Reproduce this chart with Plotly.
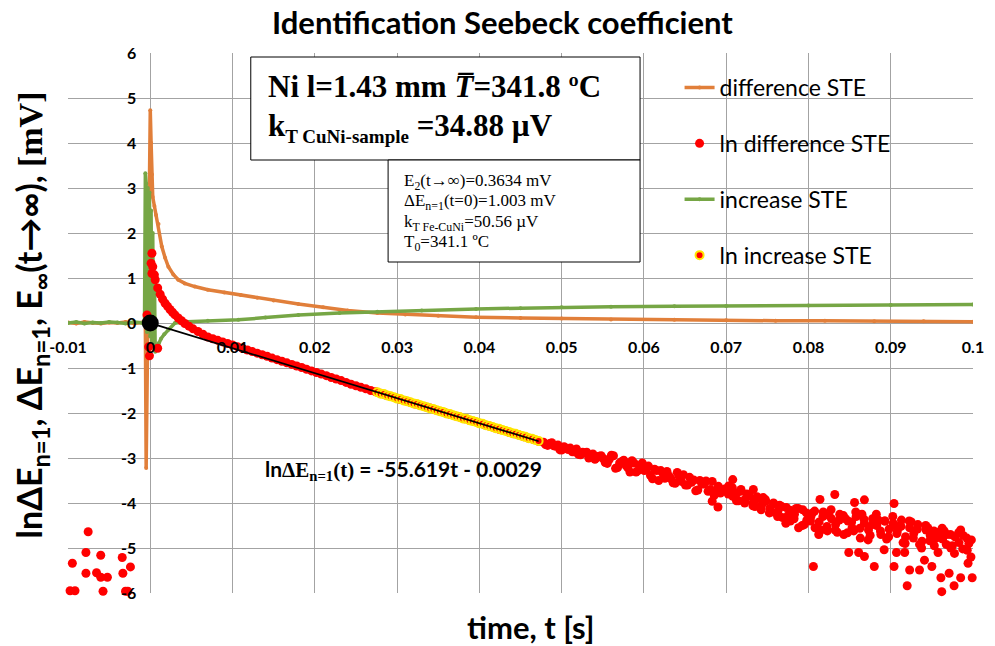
import plotly.graph_objects as go

# ---------------- data ----------------
x_ticks = [-0.01, 0, 0.01, 0.02, 0.03, 0.04, 0.05, 0.06, 0.07, 0.08, 0.09, 0.1]
x_ticklabels = ["-0.01", "0", "0.01", "0.02", "0.03", "0.04", "0.05", "0.06", "0.07", "0.08", "0.09", "0.1"]
y_ticks = [-6, -5, -4, -3, -2, -1, 0, 1, 2, 3, 4, 5, 6]
y_ticklabels = ["-6", "-5", "-4", "-3", "-2", "-1", "0", "1", "2", "3", "4", "5", "6"]

# difference STE
diff_t = [-0.0100, -0.0090, -0.0080, -0.0070, -0.0060, -0.0050, -0.0040, -0.0030, -0.0020, -0.0010,
          -0.0006, -0.0005, 0.0000, 0.0001, 0.0002, 0.0003, 0.0005, 0.0007, 0.0010,
          0.0014, 0.0018, 0.0022, 0.0028, 0.0034, 0.0042, 0.0054, 0.0070, 0.0090,
          0.0110, 0.0130, 0.0150, 0.0180, 0.0210, 0.0240, 0.0276,
          0.0310, 0.0350, 0.0396, 0.0450, 0.0500, 0.0560, 0.0637,
          0.0700, 0.0760, 0.0820, 0.0880, 0.0940, 0.1000]
diff_v = [0.01, -0.01, 0.02, 0.00, -0.01, 0.01, 0.00, 0.02, -0.01, 0.01,
          0.00, -3.22, 4.73, 4.00, 3.30, 2.80, 2.60, 2.40, 2.20,
          1.70, 1.45, 1.25, 1.08, 0.96, 0.88, 0.81, 0.74, 0.68,
          0.62, 0.56, 0.50, 0.42, 0.35, 0.28, 0.22,
          0.19, 0.16, 0.13, 0.11, 0.10, 0.08, 0.07,
          0.06, 0.05, 0.05, 0.04, 0.04, 0.03]

# increase STE
inc_t = [-0.0100, -0.0090, -0.0080, -0.0070, -0.0060, -0.0050, -0.0040, -0.0030, -0.0020, -0.0010,
         -0.0007, -0.0006, -0.0005, -0.0004, -0.0003, -0.0002, -0.0001, 0.0000, 0.0001, 0.0002,
         0.0003, 0.0004, 0.0005, 0.0006,
         0.0008, 0.0010, 0.0013, 0.0017, 0.0022, 0.0030, 0.0045, 0.0070, 0.0107,
         0.0140, 0.0180, 0.0230, 0.0276, 0.0330, 0.0396, 0.0450, 0.0500, 0.0560, 0.0637,
         0.0700, 0.0800, 0.0900, 0.1000]
inc_v = [0.00, 0.02, -0.01, 0.01, 0.00, 0.02, 0.01, -0.01, 0.02, 0.00,
         0.00, 3.33, 3.10, -0.20, 3.00, 0.30, 2.90, -0.30, 2.50, -0.40,
         2.00, -0.50, 1.10, -0.64,
         -0.55, -0.45, -0.35, -0.25, -0.15, 0.00, 0.03, 0.05, 0.07,
         0.12, 0.18, 0.22, 0.25, 0.28, 0.31, 0.33, 0.35, 0.36, 0.37,
         0.38, 0.39, 0.40, 0.41]

# ln difference STE
red_pre_t = [-0.00975, -0.00915, -0.00755, -0.00782, -0.00947, -0.00782, -0.00653, -0.00602,
             -0.00602, -0.00521, -0.00574, -0.00341, -0.00333, -0.00241, -0.00301, -0.00273]
red_pre_v = [-5.95, -5.95, -4.64, -5.10, -5.34, -5.56, -5.55, -5.16,
             -5.65, -5.65, -5.96, -5.21, -5.56, -5.42, -5.96, -5.96]
red_near_t = [-0.0004, -0.0002, -0.0001, 0.0009]
red_near_v = [0.18, -0.53, -0.73, -0.56]
red_decay_t = [0.0001, 0.0002, 0.0002, 0.0003, 0.0005, 0.0006, 0.0009, 0.0012, 0.0015, 0.0018,
               0.0021, 0.0024, 0.0027, 0.0030, 0.0034, 0.0038, 0.0042, 0.0047, 0.0052, 0.0058,
               0.0064, 0.0070, 0.0076, 0.0082, 0.0088, 0.0094, 0.0100, 0.0106, 0.0112, 0.0118,
               0.0124, 0.0130, 0.0136, 0.0142, 0.0148, 0.0154, 0.0160, 0.0166, 0.0172, 0.0178,
               0.0184, 0.0190, 0.0196, 0.0202, 0.0208, 0.0214, 0.0220, 0.0226, 0.0232, 0.0238,
               0.0244, 0.0250, 0.0256, 0.0262, 0.0268, 0.0274, 0.0280]
red_decay_v = [1.33, 1.55, 1.10, 1.25, 1.07, 0.96, 0.78, 0.64, 0.53, 0.44,
               0.37, 0.30, 0.24, 0.18, 0.11, 0.05, -0.01, -0.07, -0.13, -0.19,
               -0.25, -0.31, -0.35, -0.385, -0.42, -0.455, -0.49, -0.525, -0.56, -0.60,
               -0.635, -0.67, -0.705, -0.74, -0.78, -0.815, -0.85, -0.885, -0.92, -0.955,
               -0.99, -1.03, -1.065, -1.10, -1.135, -1.17, -1.21, -1.245, -1.28, -1.32,
               -1.36, -1.395, -1.43, -1.46, -1.50, -1.53, -1.56]
red_line_t = [0.0286, 0.0292, 0.0298, 0.0304, 0.0310, 0.0316, 0.0322, 0.0328, 0.0334, 0.0340,
              0.0346, 0.0352, 0.0358, 0.0364, 0.0370, 0.0376, 0.0382, 0.0388, 0.0394, 0.0400,
              0.0406, 0.0412, 0.0418, 0.0424, 0.0430, 0.0436, 0.0442, 0.0448, 0.0454, 0.0460,
              0.0466, 0.0472]
red_line_v = [-1.60, -1.63, -1.66, -1.70, -1.73, -1.76, -1.80, -1.83, -1.86, -1.89,
              -1.93, -1.96, -1.99, -2.03, -2.06, -2.09, -2.13, -2.16, -2.19, -2.23,
              -2.26, -2.29, -2.33, -2.36, -2.39, -2.43, -2.46, -2.49, -2.53, -2.56,
              -2.59, -2.63]
red_noisy_t = [0.0478, 0.0483, 0.0488, 0.0493, 0.0498, 0.0503, 0.0508, 0.0513, 0.0518, 0.0523,
               0.0528, 0.0533, 0.0538, 0.0543, 0.0548,
               0.0553, 0.0558, 0.0563, 0.0568, 0.0573, 0.0578, 0.0583, 0.0588, 0.0593, 0.0598,
               0.0603, 0.0608, 0.0613, 0.0618,
               0.0623, 0.0628, 0.0633, 0.0638, 0.0643, 0.0648, 0.0653, 0.0658, 0.0663, 0.0668,
               0.0673, 0.0678, 0.0683, 0.0688, 0.0693, 0.0698,
               0.0703, 0.0708, 0.0713, 0.0718, 0.0723, 0.0728, 0.0733, 0.0738, 0.0743, 0.0748,
               0.0753, 0.0758,
               0.0763, 0.0768, 0.0773, 0.0778, 0.0783, 0.0788, 0.0793, 0.0798,
               0.0803, 0.0808, 0.0813, 0.0818, 0.0823, 0.0828, 0.0833, 0.0838, 0.0843, 0.0848,
               0.0853, 0.0858, 0.0863, 0.0868, 0.0873, 0.0878, 0.0883, 0.0888, 0.0893, 0.0898,
               0.0903, 0.0908, 0.0913, 0.0918, 0.0923, 0.0928, 0.0933, 0.0938, 0.0943, 0.0948,
               0.0953, 0.0958, 0.0963, 0.0968, 0.0973, 0.0978, 0.0983, 0.0988, 0.0993, 0.0998]
red_noisy_v = [-2.65, -2.72, -2.66, -2.74, -2.82, -2.75, -2.81, -2.86, -2.80, -2.93,
               -2.89, -3.00, -2.91, -2.99, -2.95,
               -3.10, -3.03, -2.95, -3.21, -3.08, -3.16, -3.31, -3.11, -3.28, -3.11,
               -3.26, -3.39, -3.25, -3.50,
               -3.34, -3.30, -3.46, -3.56, -3.41, -3.37, -3.60, -3.54, -3.73, -3.50,
               -3.58, -3.74, -3.52, -3.71, -3.78, -3.69,
               -3.62, -3.85, -3.78, -3.70, -3.92, -3.84, -3.98, -3.90, -4.05, -3.96,
               -4.12, -4.02,
               -4.18, -4.32, -4.10, -4.40, -4.25, -4.55, -4.15, -4.38,
               -4.30, -4.55, -4.42, -4.20, -4.62, -4.35, -4.48, -4.25, -4.70, -4.40,
               -4.55, -4.30, -4.78, -4.45, -4.60, -4.35, -4.50, -4.70, -4.40, -4.58,
               -4.45, -4.62, -4.38, -4.75, -4.55, -4.68, -4.48, -4.85, -4.60, -4.72,
               -4.95, -4.65, -4.80, -4.70, -5.00, -4.75, -4.88, -4.72, -5.05, -4.82]
red_fill_t = [0.04805, 0.04855, 0.04905, 0.04955, 0.05005, 0.05055, 0.05105, 0.05155, 0.05205, 0.05255,
              0.05305, 0.05355, 0.05405, 0.05455, 0.05505, 0.05555, 0.05605, 0.05655, 0.05705, 0.05755,
              0.05805, 0.05855, 0.05905, 0.05955, 0.06005, 0.06055, 0.06105, 0.06155, 0.06205, 0.06255,
              0.06305, 0.06355, 0.06405, 0.06455, 0.06505, 0.06555, 0.06605, 0.06655, 0.06705, 0.06755,
              0.06805, 0.06855, 0.06905, 0.06955]
red_fill_v = [-2.70, -2.68, -2.73, -2.71, -2.82, -2.79, -2.78, -2.86, -2.92, -2.87,
              -2.87, -2.96, -3.03, -2.96, -3.01, -3.12, -2.94, -3.23, -3.11, -3.05,
              -3.22, -3.06, -3.31, -3.21, -3.28, -3.18, -3.46, -3.28, -3.28, -3.45,
              -3.40, -3.55, -3.32, -3.52, -3.60, -3.43, -3.49, -3.71, -3.58, -3.51,
              -3.70, -3.83, -3.63, -3.73]
red_fill2_t = [0.07025, 0.07075, 0.07125, 0.07175, 0.07225, 0.07275, 0.07325, 0.07375, 0.07425, 0.07475,
               0.07525, 0.07575, 0.07625, 0.07675, 0.07725, 0.07775, 0.07825, 0.07875, 0.07925, 0.07975,
               0.08025, 0.08075, 0.08125, 0.08175, 0.08225, 0.08275, 0.08325, 0.08375, 0.08425, 0.08475,
               0.08525, 0.08575, 0.08625, 0.08675, 0.08725, 0.08775, 0.08825, 0.08875, 0.08925, 0.08975,
               0.09025, 0.09075, 0.09125, 0.09175, 0.09225, 0.09275, 0.09325, 0.09375, 0.09425, 0.09475,
               0.09525, 0.09575, 0.09625, 0.09675, 0.09725, 0.09775, 0.09825, 0.09875, 0.09925, 0.09975]
red_fill2_v = [-3.80, -3.66, -3.95, -3.74, -4.00, -3.82, -4.06, -3.86, -4.15, -3.92,
               -4.22, -4.00, -4.30, -4.08, -4.45, -4.16, -4.35, -4.12, -4.50, -4.22,
               -4.40, -4.18, -4.70, -4.30, -4.52, -4.15, -4.60, -4.38, -4.28, -4.66,
               -4.42, -4.20, -4.56, -4.36, -4.82, -4.48, -4.25, -4.62, -4.40, -4.75,
               -4.30, -4.68, -4.52, -4.90, -4.40, -4.78, -4.58, -5.00, -4.50, -4.84,
               -4.62, -5.10, -4.56, -4.92, -4.70, -5.12, -4.66, -5.02, -4.78, -5.20]
red_extra_t = [0.0705, 0.0715, 0.0725, 0.0735, 0.0745, 0.0755, 0.0765, 0.0775, 0.0785, 0.0795,
               0.0805, 0.0815, 0.0825, 0.0835, 0.0845, 0.0855, 0.0865, 0.0875, 0.0885, 0.0895,
               0.0905, 0.0915, 0.0925, 0.0935, 0.0945, 0.0955, 0.0965, 0.0975, 0.0985, 0.0995]
red_extra_v = [-3.72, -3.95, -3.80, -4.08, -3.88, -4.20, -4.05, -4.28, -4.12, -4.48,
               -4.22, -4.60, -4.28, -4.65, -4.35, -4.62, -4.25, -4.72, -4.38, -4.80,
               -4.50, -4.88, -4.42, -4.92, -4.55, -4.78, -4.62, -4.95, -4.60, -4.90]
red_out_t = [0.0708, 0.0733, 0.0806, 0.0814, 0.0832, 0.0849, 0.0856, 0.0861, 0.0868, 0.0868,
             0.0880, 0.0892, 0.0904, 0.0904, 0.0907, 0.0917, 0.0920, 0.0923, 0.0935, 0.0941,
             0.0950, 0.0961, 0.0962, 0.0971, 0.0977, 0.0985, 0.0994, 0.0999, 0.0690, 0.0683]
red_out_v = [-3.48, -3.70, -5.41, -3.92, -3.81, -5.10, -3.99, -5.10, -3.93, -5.19,
             -5.41, -5.04, -4.01, -5.41, -5.10, -5.10, -5.84, -5.49, -5.49, -5.27,
             -5.41, -5.66, -5.97, -5.56, -5.84, -5.66, -5.34, -5.66, -4.09, -3.96]

# ln increase STE
yel_t = [0.0276, 0.0280, 0.0284, 0.0288, 0.0292, 0.0296, 0.0300, 0.0304, 0.0308, 0.0312,
         0.0316, 0.0320, 0.0324, 0.0328, 0.0332, 0.0336, 0.0340, 0.0344, 0.0348, 0.0352,
         0.0356, 0.0360, 0.0364, 0.0368, 0.0372, 0.0376, 0.0380, 0.0384, 0.0388, 0.0392,
         0.0396, 0.0400, 0.0404, 0.0408, 0.0412, 0.0416, 0.0420, 0.0424, 0.0428, 0.0432,
         0.0436, 0.0440, 0.0444, 0.0448, 0.0452, 0.0456, 0.0460, 0.0464, 0.0468, 0.0472]
yel_v = [-1.54, -1.57, -1.58, -1.61, -1.63, -1.65, -1.68, -1.69, -1.72, -1.74,
         -1.76, -1.79, -1.80, -1.83, -1.85, -1.87, -1.90, -1.91, -1.94, -1.96,
         -1.98, -2.01, -2.02, -2.05, -2.07, -2.09, -2.12, -2.13, -2.16, -2.18,
         -2.20, -2.23, -2.24, -2.27, -2.29, -2.31, -2.34, -2.35, -2.38, -2.40,
         -2.42, -2.45, -2.46, -2.49, -2.51, -2.53, -2.56, -2.57, -2.60, -2.62]

# linear fit  lnΔE = -55.619 t - 0.0029
fit_t = [0.0, 0.0472]
fit_v = [-0.0029, -2.628]
origin_t = [0.0]
origin_v = [0.0]

red_t = (red_pre_t + red_near_t + red_decay_t + red_line_t + red_noisy_t + red_fill_t
         + red_fill2_t + red_extra_t + red_out_t)
red_v = (red_pre_v + red_near_v + red_decay_v + red_line_v + red_noisy_v + red_fill_v
         + red_fill2_v + red_extra_v + red_out_v)

# ---------------- figure ----------------
SANS = "Lato"
SERIF = "Liberation Serif"
ORANGE = "#E17F3A"
GREEN = "#76A645"
RED = "#FF0000"

fig = go.Figure()
fig.add_trace(go.Scatter(x=diff_t, y=diff_v, name="difference STE", mode="lines+markers",
                         line=dict(color=ORANGE, width=3.5), marker=dict(color=ORANGE, size=4),
                         legendgroup="a", legendrank=1))
fig.add_trace(go.Scatter(x=inc_t, y=inc_v, name="increase STE", mode="lines+markers",
                         line=dict(color=GREEN, width=3.5), marker=dict(color=GREEN, size=4),
                         legendgroup="c", legendrank=3))
fig.add_trace(go.Scatter(x=red_t, y=red_v, name="ln difference STE", mode="markers",
                         marker=dict(color=RED, size=9), cliponaxis=False,
                         legendgroup="b", legendrank=2))
fig.add_trace(go.Scatter(x=yel_t, y=yel_v, name="ln increase STE", mode="markers",
                         marker=dict(color=RED, size=8, line=dict(color="#FFE600", width=2)),
                         legendgroup="d", legendrank=4))
fig.add_trace(go.Scatter(x=fit_t, y=fit_v, mode="lines", line=dict(color="black", width=1.6),
                         showlegend=False, hoverinfo="skip"))
fig.add_trace(go.Scatter(x=origin_t, y=origin_v, mode="markers", marker=dict(color="black", size=17),
                         showlegend=False, cliponaxis=False))

L, R, T, B = 68, 11, 53, 53
W, H = 995, 646
PW, PH = W - L - R, H - T - B


def px(x):
    return (x - L) / PW


def py(y):
    return (H - B - y) / PH


grid = "#a3a3a3"
fig.update_xaxes(range=[-0.01, 0.1], tickvals=x_ticks, ticktext=x_ticklabels,
                 showgrid=True, gridcolor=grid, gridwidth=1.3, zeroline=False, showline=False,
                 anchor="free", position=0.5, ticks="", ticklabelstandoff=13,
                 ticklabeloverflow="allow",
                 tickfont=dict(family=SANS, size=16, color="black", weight="bold"))
fig.update_yaxes(range=[-6, 6], tickvals=y_ticks, ticktext=y_ticklabels,
                 showgrid=True, gridcolor=grid, gridwidth=1.3, zeroline=False, showline=False,
                 anchor="free", position=0.01 / 0.11, ticks="", ticklabelstandoff=14,
                 ticklabeloverflow="allow",
                 tickfont=dict(family=SANS, size=16, color="black", weight="bold"))

shapes = [
    dict(type="rect", xref="paper", yref="paper", x0=px(253), x1=px(647), y0=py(160), y1=py(57),
         line=dict(color="black", width=1), fillcolor="white", layer="above"),
    dict(type="rect", xref="paper", yref="paper", x0=px(392), x1=px(647), y0=py(262), y1=py(160),
         line=dict(color="black", width=1), fillcolor="white", layer="above"),
]


def ann(text, x, y, size, family=SANS, xanchor="center", angle=0):
    return dict(text=text, x=px(x), y=py(y), xref="paper", yref="paper", xanchor=xanchor,
                yanchor="middle", textangle=angle, showarrow=False,
                font=dict(family=family, size=size, color="black"))


annotations = [
    ann("<b>Identification Seebeck coefficient</b>", 508, 22, 31),
    ann("<b>time, t [s]</b>", 537, 627, 31),
    ann("<b>lnΔE<sub>n=1</sub>, ΔE<sub>n=1</sub>, E<sub>∞</sub>(t→∞), "
        "<span style='font-family:Liberation Serif'>[mV]</span></b>", 31, 315, 34, angle=-90),
    ann("<b>Ni l=1.43 mm <i>T\u0305</i>=341.8 ºC</b>", 268, 86, 31, SERIF, "left"),
    ann("<b>k<sub><span style='font-size:19px'>T CuNi-sample</span></sub> =34.88 µV</b>", 268, 127, 31,
        SERIF, "left"),
    ann("E<sub>2</sub>(t→∞)=0.3634 mV", 406, 182, 17, SERIF, "left"),
    ann("ΔE<sub>n=1</sub>(t=0)=1.003 mV", 406, 202, 17, SERIF, "left"),
    ann("k<sub>T Fe-CuNi</sub>=50.56 µV", 406, 223, 17, SERIF, "left"),
    ann("T<sub>0</sub>=341.1 ºC", 406, 243, 17, SERIF, "left"),
    ann("<b>ln<span style='font-family:Liberation Serif'>ΔE<sub>n=1</sub>(t)</span> = -55.619t - 0.0029</b>",
        265, 470, 21, SANS, "left"),
]

fig.update_layout(
    width=W, height=H,
    margin=dict(l=L, r=R, t=T, b=B),
    paper_bgcolor="white", plot_bgcolor="white",
    shapes=shapes, annotations=annotations,
    showlegend=True,
    legend=dict(x=px(687), y=py(66), xanchor="left", yanchor="top", bgcolor="rgba(0,0,0,0)",
                font=dict(family=SANS, size=23, color="black"), tracegroupgap=23,
                itemsizing="trace"),
)

fig.write_html("out.html")
